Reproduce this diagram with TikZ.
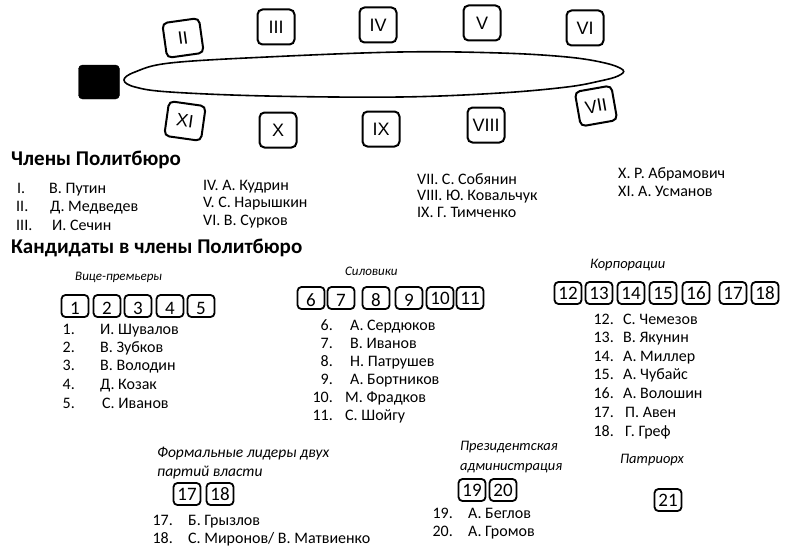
\documentclass[tikz,border=0pt]{standalone}
\usepackage{fontspec}
\setmainfont{Carlito}
\newfontfamily\romfont{Liberation Sans}

\tikzset{
  testo/.style={anchor=base west, inner sep=0pt, font=\fontsize{16}{18}\selectfont},
  num/.style={anchor=base east, inner sep=0pt, font=\fontsize{16}{18}\selectfont},
  titolo/.style={anchor=base west, inner sep=0pt, font=\fontsize{21}{24}\selectfont\bfseries},
  gruppo/.style={anchor=base west, inner sep=0pt, font=\fontsize{14.5}{17}\selectfont\itshape},
  piccolo/.style={font=\fontsize{13}{15}\selectfont\itshape},
  grande/.style={font=\fontsize{15.5}{18}\selectfont\itshape},
  romano/.style={draw, line width=2pt, rounded corners=5pt, minimum width=37pt, minimum height=35pt, inner sep=0pt, font=\romfont\fontsize{18}{18}\selectfont},
  quadro/.style={draw, line width=1.8pt, rounded corners=4pt, minimum width=27pt, minimum height=22pt, inner sep=0pt, font=\fontsize{19}{19}\selectfont},
  basso/.style={text height=17pt, text depth=0pt},
}

\begin{document}
\begin{tikzpicture}[x=1pt, y=-1pt]
        \useasboundingbox (0,0) rectangle (799,551);
        \fill[white] (0,0) rectangle (799,551);
        %disegno capo e cerchio
        \node (capo) at (99,82)[draw, fill=black, rounded corners=4pt, minimum width=41pt, minimum height=34pt]{};
        \draw[line width=1.6pt] plot[smooth cycle, tension=0.6] coordinates {(124,80) (135,72) (170,63) (267,57) (400,52) (500,53) (567,57) (605,63) (623,70) (618,76) (600,81) (567,87) (500,93) (400,97) (267,96) (170,92) (135,87)};
        %riquadri romani
        \node (r2) at (183,38)[romano, rotate=8]{II};
        \node (r3) at (276,27)[romano]{III};
        \node (r4) at (378,25)[romano]{IV};
        \node (r5) at (482,23)[romano]{V};
        \node (r6) at (585,28)[romano]{VI};
        \node (r7) at (596,106)[romano, rotate=10]{VII};
        \node (r8) at (486,125)[romano]{VIII};
        \node (r9) at (381,129)[romano]{IX};
        \node (r10) at (278,130)[romano]{X};
        \node (r11) at (185,121)[romano, rotate=-8]{XI};
        %membri
        \node (tit1) at (11,165)[titolo]{Члены Политбюро};
        \node (m1n) at (17,193)[testo]{I.};
        \node (m1) at (49,193)[testo]{В. Путин};
        \node (m2n) at (16,211)[testo]{II.};
        \node (m2) at (50,211)[testo]{Д. Медведев};
        \node (m3n) at (16,230)[testo]{III.};
        \node (m3) at (52,230)[testo]{И. Сечин};
        \node (m4) at (203,190)[testo]{IV. А. Кудрин};
        \node (m5) at (203,207)[testo]{V. С. Нарышкин};
        \node (m6) at (203,225)[testo]{VI. В. Сурков};
        \node (m7) at (417,184)[testo]{VII. С. Собянин};
        \node (m8) at (417,200)[testo]{VIII. Ю. Ковальчук};
        \node (m9) at (417,217)[testo]{IX. Г. Тимченко};
        \node (m10) at (618,178)[testo]{X. Р. Абрамович};
        \node (m11) at (618,196)[testo]{XI. А. Усманов};
        %candidati
        \node (tit2) at (11,253)[titolo]{Кандидаты в члены Политбюро};
        %vice-premier
        \node (g1) at (75,280)[gruppo, piccolo]{Вице-премьеры};
        \node (n1) at (75,306)[quadro, basso]{1};
        \node (n2) at (107,306)[quadro, basso]{2};
        \node (n3) at (138,306)[quadro, basso]{3};
        \node (n4) at (170,306)[quadro, basso]{4};
        \node (n5) at (201,306)[quadro, basso]{5};
        \node (c1n) at (75,334)[num]{1.};
        \node (c1) at (100,334)[testo]{И. Шувалов};
        \node (c2n) at (75,352)[num]{2.};
        \node (c2) at (100,352)[testo]{В. Зубков};
        \node (c3n) at (75,370)[num]{3.};
        \node (c3) at (100,370)[testo]{В. Володин};
        \node (c4n) at (75,389)[num]{4.};
        \node (c4) at (100,389)[testo]{Д. Козак};
        \node (c5n) at (75,408)[num]{5.};
        \node (c5) at (102,408)[testo]{С. Иванов};
        %siloviki
        \node (g2) at (345,275)[gruppo, piccolo]{Силовики};
        \node (n6) at (311,298)[quadro, basso]{6};
        \node (n7) at (341,298)[quadro, basso]{7};
        \node (n8) at (376,298)[quadro, basso]{8};
        \node (n9) at (409,298)[quadro, basso]{9};
        \node (n10) at (440,298)[quadro]{10};
        \node (n11) at (470,298)[quadro]{11};
        \node (c6n) at (333,330)[num]{6.};
        \node (c6) at (350,330)[testo]{А. Сердюков};
        \node (c7n) at (333,348)[num]{7.};
        \node (c7) at (350,348)[testo]{В. Иванов};
        \node (c8n) at (333,366)[num]{8.};
        \node (c8) at (350,366)[testo]{Н. Патрушев};
        \node (c9n) at (333,384)[num]{9.};
        \node (c9) at (350,384)[testo]{А. Бортников};
        \node (c10n) at (333,402)[num]{10.};
        \node (c10) at (345,402)[testo]{М. Фрадков};
        \node (c11n) at (333,420)[num]{11.};
        \node (c11) at (345,420)[testo]{С. Шойгу};
        %corporazioni
        \node (g3) at (590,268)[gruppo]{Корпорации};
        \node (n12) at (568,293)[quadro]{12};
        \node (n13) at (599,293)[quadro]{13};
        \node (n14) at (631,293)[quadro]{14};
        \node (n15) at (663,293)[quadro]{15};
        \node (n16) at (696,293)[quadro]{16};
        \node (n17c) at (733,293)[quadro]{17};
        \node (n18c) at (765,293)[quadro]{18};
        \node (c12n) at (614,324)[num]{12.};
        \node (c12) at (623,324)[testo]{С. Чемезов};
        \node (c13n) at (614,342)[num]{13.};
        \node (c13) at (623,342)[testo]{В. Якунин};
        \node (c14n) at (614,361)[num]{14.};
        \node (c14) at (623,361)[testo]{А. Миллер};
        \node (c15n) at (614,379)[num]{15.};
        \node (c15) at (623,379)[testo]{А. Чубайс};
        \node (c16n) at (614,398)[num]{16.};
        \node (c16) at (623,398)[testo]{А. Волошин};
        \node (c17n) at (614,417)[num]{17.};
        \node (c17) at (625,417)[testo]{П. Авен};
        \node (c18n) at (614,436)[num]{18.};
        \node (c18) at (625,436)[testo]{Г. Греф};
        %partiti
        \node (g4) at (157,457)[gruppo, grande]{Формальные лидеры двух};
        \node (g4b) at (157,476)[gruppo, grande]{партий власти};
        \node (n17p) at (187,494)[quadro]{17};
        \node (n18p) at (220,494)[quadro]{18};
        \node (c17pn) at (173,525)[num]{17.};
        \node (c17p) at (188,525)[testo]{Б. Грызлов};
        \node (c18pn) at (173,543)[num]{18.};
        \node (c18p) at (188,543)[testo]{С. Миронов/ В. Матвиенко};
        %amministrazione
        \node (g5) at (460,450)[gruppo]{Президентская};
        \node (g5b) at (460,470)[gruppo]{администрация};
        \node (n19) at (472,490)[quadro]{19};
        \node (n20) at (503,490)[quadro]{20};
        \node (c19n) at (453,518)[num]{19.};
        \node (c19) at (468,518)[testo]{А. Беглов};
        \node (c20n) at (453,536)[num]{20.};
        \node (c20) at (468,536)[testo]{А. Громов};
        %patriarca
        \node (g6) at (620,463)[gruppo]{Патриорх};
        \node (n21) at (668,500)[quadro]{21};
\end{tikzpicture}
\end{document}
